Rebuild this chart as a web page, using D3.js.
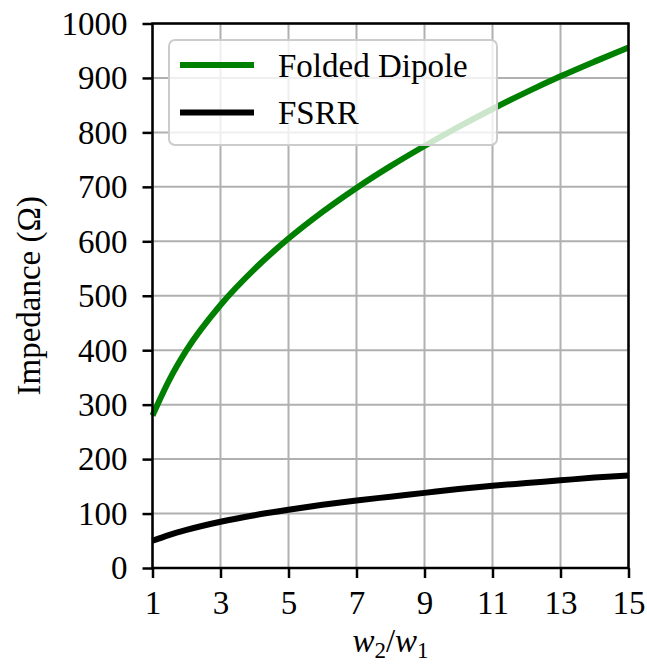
<!DOCTYPE html>
<html>
<head>
<meta charset="utf-8">
<script src="https://cdn.jsdelivr.net/npm/d3@7"></script>
<style>
  body { margin: 0; background: #fff; }
  svg { display: block; }
  .tick text { font-family: "Liberation Serif", serif; font-size: 33px; fill: #000; }
  .lbl { font-family: "Liberation Serif", serif; font-size: 33px; }
</style>
</head>
<body>
<div class="js-vis"></div>
<script>
// values
const ratios = [1, 1.5, 2, 3, 4, 5, 6, 7, 8, 9, 10, 11, 12, 13, 14, 15]
const foldedDipole = [280, 346, 400, 483, 549, 605, 654, 698, 738, 775, 810, 843, 874, 903, 930, 956]
const fsrr = [50, 61, 70, 85, 97, 107, 116, 124, 131, 138, 145, 151, 156, 161, 166, 170]
const xTicks = [1, 3, 5, 7, 9, 11, 13, 15]
const yTicks = [0, 100, 200, 300, 400, 500, 600, 700, 800, 900, 1000]
const seriesNames = ["Folded Dipole", "FSRR"]
const seriesColors = ["#008000", "#000000"]

const W = 647, H = 667
const margin = { top: 23.5, right: 18.5, bottom: 99, left: 152.5 },
    width = W - margin.left - margin.right,
    height = H - margin.top - margin.bottom

const svg = d3.select(".js-vis").append("svg")
    .attr("width", W)
    .attr("height", H)

const vis = svg.append("g")
    .attr("transform", "translate(" + margin.left + "," + margin.top + ")")

const x = d3.scaleLinear().domain([1, 15]).range([0, width])
const y = d3.scaleLinear().domain([0, 1000]).range([height, 0])

// grid
vis.append("g").selectAll("line")
  .data(xTicks)
.enter().append("line")
    .attr("x1", d => x(d)).attr("x2", d => x(d))
    .attr("y1", 0).attr("y2", height)
    .attr("stroke", "#b0b0b0").attr("stroke-width", 2)

vis.append("g").selectAll("line")
  .data(yTicks)
.enter().append("line")
    .attr("x1", 0).attr("x2", width)
    .attr("y1", d => y(d)).attr("y2", d => y(d))
    .attr("stroke", "#b0b0b0").attr("stroke-width", 2)

// curves
const series = [foldedDipole, fsrr]
const line = d3.line()
    .x((d, i) => x(ratios[i]))
    .y(d => y(d))
    .curve(d3.curveMonotoneX)

vis.append("g").selectAll("path")
  .data(series)
.enter().append("path")
    .attr("d", line)
    .attr("fill", "none")
    .attr("stroke", (d, i) => seriesColors[i])
    .attr("stroke-width", 6)

// spines
vis.append("rect")
    .attr("width", width).attr("height", height)
    .attr("fill", "none").attr("stroke", "#000").attr("stroke-width", 2.5)

// axes
const xax = d3.axisBottom(x).tickValues(xTicks).tickSize(10).tickFormat(d3.format("d"))
const yax = d3.axisLeft(y).tickValues(yTicks).tickSize(10).tickPadding(15).tickFormat(d3.format("d"))

const gx = vis.append("g")
    .attr("transform", "translate(0," + height + ")")
    .call(xax)
const gy = vis.append("g").call(yax)

gx.select(".domain").remove()
gy.select(".domain").remove()
gx.selectAll(".tick line").attr("stroke", "#000").attr("stroke-width", 2.5)
gy.selectAll(".tick line").attr("stroke", "#000").attr("stroke-width", 2.5)
gx.selectAll(".tick text").attr("y", 46).attr("dy", 0)
gy.selectAll(".tick text").attr("dy", "0.33em")

// axis labels
svg.append("text")
    .attr("class", "lbl")
    .attr("x", margin.left + width / 2)
    .attr("y", 652)
    .attr("text-anchor", "middle")
    .style("font-style", "italic")
    .html("w<tspan font-style='normal' font-size='23px' dy='6'>2</tspan><tspan font-style='normal' dy='-6'>/</tspan>w<tspan font-style='normal' font-size='23px' dy='6'>1</tspan>")

svg.append("text")
    .attr("class", "lbl")
    .attr("transform", "translate(40," + (margin.top + height / 2) + ") rotate(-90)")
    .attr("text-anchor", "middle")
    .text("Impedance (\u03A9)")

// legend
const leg = vis.append("g")
    .attr("transform", "translate(" + (169 - margin.left) + "," + (40 - margin.top) + ")")

leg.append("rect")
    .attr("width", 328).attr("height", 105)
    .attr("rx", 6).attr("ry", 6)
    .attr("fill", "#fff").attr("fill-opacity", 0.8)
    .attr("stroke", "#cccccc").attr("stroke-width", 2)

const items = leg.selectAll(".item")
  .data(seriesNames)
.enter().append("g")
    .attr("class", "item")
    .attr("transform", (d, i) => "translate(0," + (25 + i * 47.5) + ")")

items.append("line")
    .attr("x1", 11).attr("x2", 85)
    .attr("stroke", (d, i) => seriesColors[i])
    .attr("stroke-width", 6)

items.append("text")
    .attr("class", "lbl")
    .attr("x", 109).attr("dy", "0.36em")
    .text(String)
</script>
</body>
</html>
